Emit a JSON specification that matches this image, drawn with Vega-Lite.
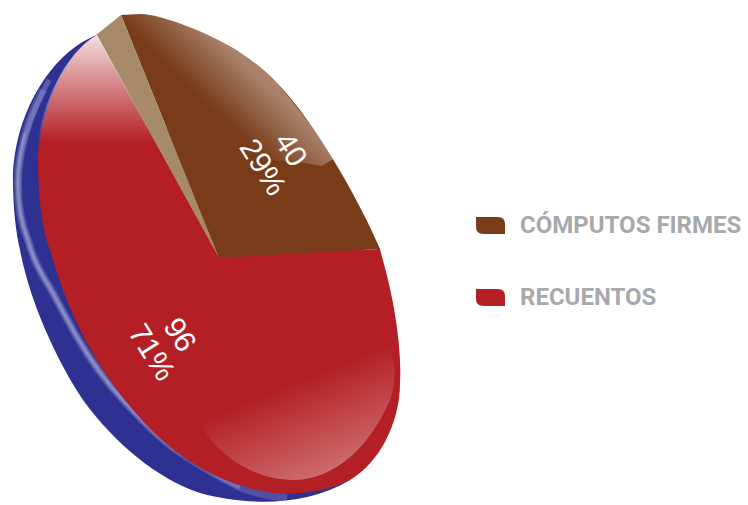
{
"$schema":"https://vega.github.io/schema/vega-lite/v6.json",
"width":438,"height":490,
"padding":{"left":0,"top":13,"right":0,"bottom":0},
"background":"white",
"data":{"values":[
{"categoria":"CÓMPUTOS FIRMES","valor":40,"etiqueta":"40\n29%"},
{"categoria":"RECUENTOS","valor":96,"etiqueta":"96\n71%"}
]},
"config":{"view":{"stroke":null}},
"layer":[
{"transform":[{"filter":"datum.categoria==='RECUENTOS'"}],
 "mark":{"type":"point","filled":true,"opacity":1,"size":4,"fill":"#2e3192","strokeWidth":0,
 "shape":"M-122,-223 C-170,-205 -206,-140 -206,-78 C-206,-50 -203,-25 -199,-8 C-190,40 -165,98 -136,142 C-105,185 -60,222 -19,235 C25,247 85,250 131,222 L0,0 Z"}},
{"transform":[{"filter":"datum.categoria==='RECUENTOS'"}],
 "mark":{"type":"point","filled":false,"opacity":0.22,"size":4,"stroke":"#c3c5e6","strokeWidth":8,"fill":null,
 "shape":"M-176,-168 C-188,-145 -201,-110 -201,-75 C-201,-50 -196,-30 -191,-18 C-185,5 -175,20 -166,35 C-158,50 -150,65 -142,79 C-128,103 -112,125 -96,142 C-75,165 -55,185 -32,199 C-15,210 5,222 21,229 C35,235 50,238 68,240"}},
{"transform":[{"filter":"datum.categoria==='RECUENTOS'"}],
 "mark":{"type":"point","filled":false,"opacity":0.3,"size":4,"stroke":"#c3c5e6","strokeWidth":5,"fill":null,
 "shape":"M-170,-178 C-188,-145 -201,-110 -201,-75 C-201,-50 -196,-30 -191,-18 C-185,5 -175,20 -166,35 C-158,50 -150,65 -142,79 C-128,103 -112,125 -96,142 C-75,165 -55,185 -32,199 C-15,210 5,222 21,229"}},
{"transform":[{"filter":"datum.categoria==='RECUENTOS'"}],
 "mark":{"type":"point","filled":false,"opacity":0.3,"size":4,"stroke":"#c3c5e6","strokeWidth":2.5,"fill":null,
 "shape":"M-194,-125 C-198,-110 -201,-92 -201,-75 C-201,-50 -196,-30 -191,-18 C-185,5 -175,20 -166,35 C-158,50 -150,65 -142,79 C-128,103 -112,125 -96,142 C-75,165 -55,185 -32,199"}},
{"mark":{"type":"arc","radius":140},
 "encoding":{
  "theta":{"field":"valor","type":"quantitative","stack":true,"scale":{"range":[-0.384,5.899]}},
  "color":{"field":"categoria","type":"nominal","scale":{"domain":["CÓMPUTOS FIRMES","RECUENTOS"],"range":["#783c19","#b31f25"]},
   "legend":{"title":null,"orient":"none","legendX":476,"legendY":198,"symbolType":"M-1,-0.586 L0.5,-0.586 Q1,-0.586 1,-0.1 L1,0.586 L-0.5,0.586 Q-1,0.586 -1,0.1 Z","symbolSize":841,"symbolStrokeWidth":0,"symbolOpacity":1,"labelFont":"Roboto","labelFontWeight":"bold","labelFontSize":24,"labelColor":"#a7a9ac","labelOffset":15,"rowPadding":45,"labelLimit":300}}
 }},
{"transform":[{"filter":"datum.categoria==='CÓMPUTOS FIRMES'"}],
 "mark":{"type":"point","filled":true,"opacity":1,"size":4,"strokeWidth":0,"fill":"#783c19",
 "shape":"M-98,-243 L-79,-244 C-65,-245 -20,-230 14,-210 C30,-200 45,-189 58,-175 C85,-148 130,-80 161,-9 L0,0 Z"}},
{"transform":[{"filter":"datum.categoria==='RECUENTOS'"}],
 "mark":{"type":"point","filled":true,"opacity":1,"size":4,"strokeWidth":0,"fill":"#b31f25",
 "shape":"M-122,-223 C-155,-205 -181,-140 -181,-98 C-181,-60 -176,-25 -169,-8 C-155,40 -136,92 -86,152 C-50,195 -5,225 48,234 C70,238 105,235 131,222 C160,205 181,165 181,125 C183,90 175,40 163,-1 L161,-9 L0,0 Z"}},
{"transform":[{"filter":"datum.categoria==='RECUENTOS'"}],
 "mark":{"type":"point","filled":true,"opacity":1,"size":4,"strokeWidth":0,"fill":"#a68a69",
 "shape":"M-98,-243 L-123,-223 L0,0 Z"}},
{"transform":[{"filter":"datum.categoria==='RECUENTOS'"}],
 "mark":{"type":"point","filled":true,"opacity":1,"size":4,"strokeWidth":0,
 "fill":{"gradient":"linear","x1":0,"y1":0,"x2":0,"y2":1,"stops":[{"offset":0,"color":"rgba(255,255,255,0.85)"},{"offset":1,"color":"rgba(255,255,255,0)"}]},
 "shape":"M-122,-223 C-155,-205 -178,-150 -181,-115 L-63,-115 Z"}},
{"transform":[{"filter":"datum.categoria==='RECUENTOS'"}],
 "mark":{"type":"point","filled":true,"opacity":1,"size":4,"strokeWidth":0,
 "fill":{"gradient":"linear","x1":0.5,"y1":0.285,"x2":0.9,"y2":0.985,"stops":[{"offset":0,"color":"rgba(255,255,255,0)"},{"offset":1,"color":"rgba(255,255,255,0.42)"}]},
 "shape":"M-19,162 C-10,190 30,222 74,222 C115,222 150,190 171,142 C177,125 178,105 169,84 Z"}},
{"transform":[{"filter":"datum.categoria==='RECUENTOS'"}],
 "mark":{"type":"point","filled":true,"opacity":1,"size":4,"strokeWidth":0,
 "fill":{"gradient":"linear","x1":0.38,"y1":0.55,"x2":0.62,"y2":0.376,"stops":[{"offset":0,"color":"rgba(255,255,255,0)"},{"offset":1,"color":"rgba(255,255,255,0.36)"}]},
 "shape":"M-98,-243 L-79,-244 C-65,-245 -20,-230 14,-210 C30,-200 45,-189 58,-175 C80,-150 100,-120 116,-100 L103,-92 L80,-96 L40,-98 L-40,-98 Z"}},
{"transform":[
  {"stack":"valor","groupby":[],"sort":[{"field":"categoria"}],"as":["inicio","fin"]},
  {"calculate":"(datum.inicio+datum.fin)/2","as":"medio"}],
 "mark":{"type":"text","font":"Liberation Sans","fontSize":30,"color":"white","angle":58,"lineBreak":"\n","lineHeight":33,"align":"center","baseline":"middle","xOffset":13,"yOffset":-11},
 "encoding":{
  "theta":{"field":"medio","type":"quantitative","stack":null,"scale":{"domain":[0,136],"range":[-0.384,5.899]}},
  "radius":{"field":"categoria","type":"ordinal","scale":{"domain":["CÓMPUTOS FIRMES","RECUENTOS"],"range":[113,103]}},
  "text":{"field":"etiqueta","type":"nominal"}
 }}
]
}
